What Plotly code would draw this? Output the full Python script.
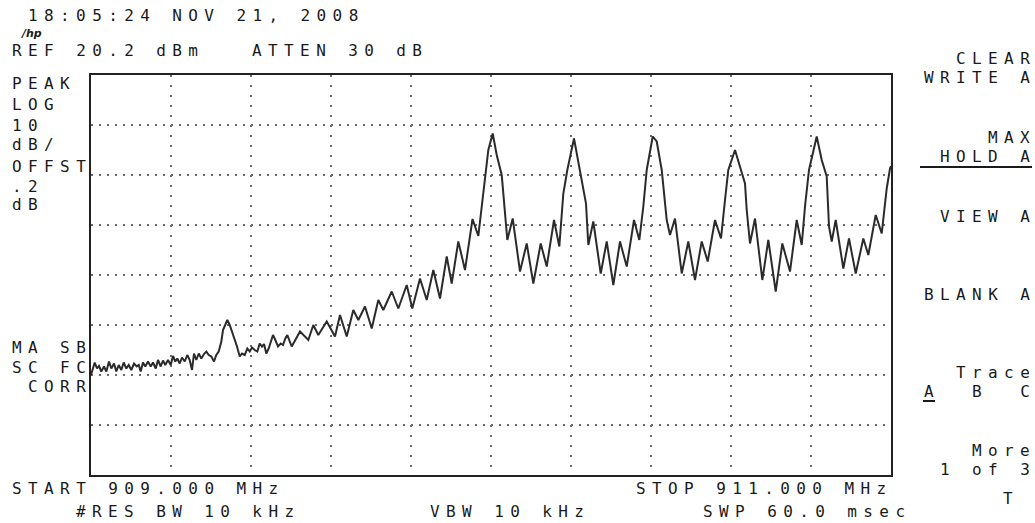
import plotly.graph_objects as go

# ---- data (trace vertices) ----
freq_mhz = [
    909.0000, 909.0093, 909.0150, 909.0200, 909.0258, 909.0325, 909.0383, 909.0450, 909.0508, 909.0575,
    909.0633, 909.0693, 909.0758, 909.0818, 909.0883, 909.0943, 909.1008, 909.1075, 909.1143, 909.1193,
    909.1243, 909.1300, 909.1358, 909.1425, 909.1493, 909.1550, 909.1618, 909.1675, 909.1743, 909.1800,
    909.1858, 909.1925, 909.1993, 909.2050, 909.2108, 909.2158, 909.2218, 909.2275, 909.2343, 909.2408,
    909.2468, 909.2525, 909.2575, 909.2633, 909.2693, 909.2758, 909.2825, 909.2883, 909.2943, 909.3008,
    909.3075, 909.3133, 909.3193, 909.3258, 909.3300, 909.3358, 909.3408, 909.3468, 909.3525, 909.3593,
    909.3650, 909.3718, 909.3775, 909.3843, 909.3908, 909.3968, 909.4025, 909.4093, 909.4158, 909.4218,
    909.4275, 909.4325, 909.4383, 909.4443, 909.4493, 909.4550, 909.4608, 909.4675, 909.4743, 909.4800,
    909.4858, 909.4908, 909.5018, 909.5225, 909.5433, 909.5558, 909.5683, 909.5893, 909.6100, 909.6225,
    909.6393, 909.6558, 909.6683, 909.6850, 909.7018, 909.7183, 909.7308, 909.7518, 909.7683, 909.7893,
    909.8033, 909.8225, 909.8393, 909.8558, 909.8725, 909.8893, 909.9018, 909.9183, 909.9350, 909.9538,
    909.9683, 909.9808, 909.9933, 910.0043, 910.0143, 910.0268, 910.0350, 910.0408, 910.0543, 910.0625,
    910.0725, 910.0893, 910.1058, 910.1243, 910.1393, 910.1575, 910.1708, 910.1808, 910.1908, 910.2075,
    910.2225, 910.2375, 910.2433, 910.2558, 910.2743, 910.2893, 910.3058, 910.3225, 910.3393, 910.3575,
    910.3708, 910.3808, 910.3893, 910.4043, 910.4143, 910.4268, 910.4393, 910.4475, 910.4600, 910.4768,
    910.4933, 910.5100, 910.5268, 910.5418, 910.5600, 910.5750, 910.5850, 910.5933, 910.6100, 910.6225,
    910.6350, 910.6393, 910.6475, 910.6600, 910.6783, 910.6933, 910.7118, 910.7283, 910.7475, 910.7643,
    910.7768, 910.7850, 910.7950, 910.8143, 910.8268, 910.8393, 910.8450, 910.8518, 910.8618, 910.8808,
    910.8950, 910.9118, 910.9308, 910.9433, 910.9618, 910.9768, 910.9893, 910.9975, 911.0000,
]
level_dbm = [
    -39.8, -37.3, -38.5, -38.0, -39.1, -38.1, -39.1, -37.1, -38.5, -37.5,
    -39.1, -37.8, -38.8, -37.3, -38.5, -37.8, -38.8, -37.5, -38.1, -37.8,
    -39.1, -37.3, -38.1, -37.1, -38.1, -37.3, -38.5, -36.8, -38.1, -36.9,
    -37.8, -36.8, -37.8, -36.0, -37.1, -36.5, -37.5, -36.3, -37.1, -35.8,
    -36.8, -38.8, -35.5, -36.8, -35.5, -36.5, -35.6, -35.1, -35.8, -36.1,
    -37.1, -35.8, -35.1, -33.1, -30.8, -29.8, -28.8, -29.8, -31.1, -33.1,
    -34.1, -36.1, -35.5, -35.8, -34.5, -35.1, -34.3, -34.8, -35.1, -33.5,
    -34.1, -33.6, -35.5, -34.5, -33.1, -31.8, -32.8, -34.1, -33.5, -33.8,
    -32.5, -31.8, -34.1, -31.1, -32.8, -29.8, -31.8, -29.1, -32.1, -27.8,
    -32.1, -26.8, -28.8, -26.1, -30.5, -24.8, -26.8, -23.1, -26.5, -21.8,
    -26.5, -20.5, -24.8, -18.8, -24.5, -16.1, -21.5, -13.1, -18.8, -8.6,
    -12.0, -2.8, 5.2, 8.5, 4.2, 0.2, -6.8, -12.8, -8.5, -13.1,
    -19.1, -13.5, -21.5, -13.5, -18.1, -8.8, -14.1, -3.5, 1.2, 7.5,
    1.2, -5.5, -13.8, -9.1, -19.5, -13.1, -21.8, -13.1, -18.1, -8.8,
    -12.8, -6.1, 1.2, 7.9, 6.9, 1.2, -8.8, -11.8, -8.5, -19.5,
    -13.1, -20.8, -13.1, -17.1, -8.8, -12.5, -4.8, 1.2, 5.2, 1.9,
    -1.5, -6.8, -13.5, -8.5, -20.8, -12.8, -23.1, -13.5, -19.1, -8.8,
    -13.8, -6.1, 1.2, 7.9, 3.2, -0.1, -10.1, -13.1, -8.8, -18.5,
    -12.5, -19.5, -12.5, -15.8, -7.8, -11.5, -2.5, 1.5, 2.0,
]

REF_LEVEL = 20.2
DB_PER_DIV = 10
N_YDIV = 8
START_MHZ = 909.0
STOP_MHZ = 911.0
N_XDIV = 10

header_text = "18:05:24 NOV 21, 2008"
ref_text = "REF 20.2 dBm"
atten_text = "ATTEN 30 dB"
left_labels = ["PEAK", "LOG", "10", "dB/", "OFFST", ".2", "dB"]
left_label_y = [83, 104, 125, 144, 166, 186, 205]
corr_labels = ["MA SB", "SC FC", " CORR"]
corr_label_y = [347.5, 367.5, 386]
footer = [("START 909.000 MHz", 12, 489), ("#RES BW 10 kHz", 76, 511), ("VBW 10 kHz", 430, 511),
          ("STOP 911.000 MHz", 636, 489), ("SWP 60.0 msec", 703, 511)]
softkeys = [("CLEAR", 58), ("WRITE A", 78), ("MAX", 137.5), ("HOLD A", 156.5), ("VIEW A", 216),
            ("BLANK A", 294), ("Trace", 372), ("A  B  C", 391), ("More", 450), ("1 of 3", 469)]

# ---- layout geometry (pixels) ----
W, H = 1035, 523
PL, PR, PT, PB = 91, 891, 75, 475
FONT = "DejaVu Sans Mono"
FS = 16
LS = 6.4
PITCH = 16.0
GLYPH_W = 10.0
RIGHT_EDGE = 1031
TXT = "#1a1a1a"

fig = go.Figure(go.Scatter(x=freq_mhz, y=level_dbm, mode="lines",
                           line=dict(color="#2b2b2b", width=2), hoverinfo="skip"))


def px2paper(px, py):
    return (px - PL) / (PR - PL), (PB - py) / (PB - PT)


def label(s, px, py, size=FS, spacing=LS):
    x, y = px2paper(px, py)
    s = s.replace(" ", "\u00a0")
    fig.add_annotation(text=f"<span style='letter-spacing:{spacing}px'>{s}</span>",
                       x=x, y=y, xref="paper", yref="paper", xanchor="left", yanchor="middle",
                       showarrow=False, borderpad=0, borderwidth=0,
                       font=dict(family=FONT, size=size, color=TXT))


label(header_text, 28, 15)
label(ref_text, 12, 51)
label(atten_text, 252, 51)
for s, y in zip(left_labels, left_label_y):
    label(s, 12, y)
for s, y in zip(corr_labels, corr_label_y):
    label(s, 12, y)
for s, x, y in footer:
    label(s, x, y)
for s, y in softkeys:
    left = RIGHT_EDGE - ((len(s) - 1) * PITCH + GLYPH_W) - 1
    label(s, left, y)
label("T", 1003, 498)

# hp logo
x, y = px2paper(18, 33)
fig.add_annotation(text="<i><b>/hp</b></i>", x=x, y=y, xref="paper", yref="paper", xanchor="left",
                   yanchor="middle", showarrow=False, font=dict(family="DejaVu Sans", size=11, color=TXT))

# underlines of the active softkey / trace
for x0, x1, yy in [(920, 1032, 167), (923, 935, 401)]:
    a0, b0 = px2paper(x0, yy)
    a1, _ = px2paper(x1, yy)
    fig.add_shape(type="line", xref="paper", yref="paper", x0=a0, x1=a1, y0=b0, y1=b0,
                  line=dict(color=TXT, width=2))

fig.update_layout(
    width=W, height=H,
    margin=dict(l=PL, r=W - PR, t=PT, b=H - PB, pad=0),
    plot_bgcolor="white", paper_bgcolor="white", showlegend=False,
)
fig.update_xaxes(range=[START_MHZ, STOP_MHZ], tick0=START_MHZ, dtick=(STOP_MHZ - START_MHZ) / N_XDIV,
                 showgrid=True, gridcolor="#6a6a6a", gridwidth=2, griddash="2px,8px",
                 showticklabels=False, ticks="", zeroline=False,
                 showline=True, mirror=True, linecolor="#222", linewidth=2)
fig.update_yaxes(range=[REF_LEVEL - DB_PER_DIV * N_YDIV, REF_LEVEL], tick0=REF_LEVEL, dtick=DB_PER_DIV,
                 showgrid=True, gridcolor="#6a6a6a", gridwidth=2, griddash="2px,6px",
                 showticklabels=False, ticks="", zeroline=False,
                 showline=True, mirror=True, linecolor="#222", linewidth=2)

fig.write_html("out.html", config={"displayModeBar": False},
               post_script="document.body.style.margin='0px';document.body.style.overflow='hidden';")
